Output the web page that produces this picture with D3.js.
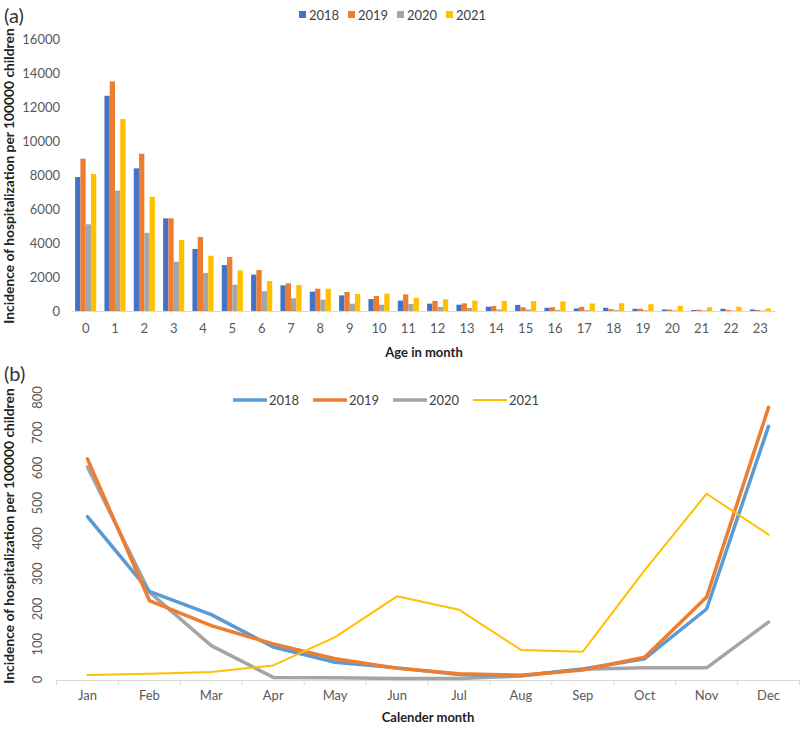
<!DOCTYPE html>
<html><head><meta charset="utf-8">
<script src="https://cdn.jsdelivr.net/npm/d3@7"></script>
<style>
body{margin:0;background:#fff;}
text{font-family:Lato,"Open Sans",sans-serif;}
</style></head>
<body>
<svg id="c" width="800" height="729"></svg>
<script>
// ---------- Data ----------
const years = ["2018","2019","2020","2021"];
const ageMonths = ["0","1","2","3","4","5","6","7","8","9","10","11","12","13","14","15","16","17","18","19","20","21","22","23"];
const age2018 = [7880,12660,8390,5450,3650,2700,2140,1510,1135,920,700,610,430,370,250,360,190,150,190,130,90,60,130,90];
const age2019 = [8960,13510,9250,5450,4350,3180,2410,1630,1310,1120,880,980,590,450,290,220,220,250,110,130,90,70,60,60];
const age2020 = [5100,7080,4600,2900,2240,1550,1160,750,665,430,370,410,235,180,90,90,60,50,50,40,30,30,20,20];
const age2021 = [8060,11290,6720,4180,3250,2390,1760,1530,1310,1000,1020,780,690,610,590,580,560,440,460,400,300,220,250,150];
const ageTicks = [0,2000,4000,6000,8000,10000,12000,14000,16000];

const months = ["Jan","Feb","Mar","Apr","May","Jun","Jul","Aug","Sep","Oct","Nov","Dec"];
const month2018 = [462,250,184,92,49,33,14,11,30,59,200,718];
const month2019 = [626,224,153,101,59,32,16,12,27,63,234,772];
const month2020 = [603,248,96,6,5,3,3,10,29,33,33,163];
const month2021 = [13,16,21,40,120,236,198,84,79,310,527,411];
const monthTicks = [0,100,200,300,400,500,600,700,800];

const barColors = ["#4472C4","#ED7D31","#A5A5A5","#FFC000"];
const lineColors = ["#5B9BD5","#ED7D31","#A5A5A5","#FFC000"];

const svg = d3.select("#c");
const tickColor = "#595959";

// ---------- Panel (a) ----------
const ageSeries = [age2018, age2019, age2020, age2021];
const xa = d3.scaleBand().domain(ageMonths).range([71,775]).paddingInner(0.28).paddingOuter(0.14);
const xs = d3.scaleBand().domain(years).range([0, xa.bandwidth()]);
const ya = d3.scaleLinear().domain([0,16000]).range([311,39]);

svg.append("text").attr("x",4).attr("y",23).attr("font-size",20).attr("fill","#333").text("(a)");

const ga = svg.append("g");
years.forEach((yr,i)=>{
  ga.append("g").selectAll("rect").data(ageSeries[i]).join("rect")
    .attr("x",(d,j)=>xa(ageMonths[j])+xs(yr))
    .attr("width",xs.bandwidth())
    .attr("y",d=>ya(d))
    .attr("height",d=>ya(0)-ya(d))
    .attr("fill",barColors[i]);
});
const axA = svg.append("g").attr("transform","translate(0,311)")
  .call(d3.axisBottom(xa).tickSize(0).tickPadding(13));
axA.select(".domain").attr("stroke","#d9d9d9");
axA.selectAll("text").attr("font-size",13).attr("fill",tickColor).attr("font-family","Lato");
const ayA = svg.append("g").attr("transform","translate(60,0)")
  .call(d3.axisLeft(ya).tickValues(ageTicks).tickSize(0).tickPadding(0).tickFormat(d3.format("d")));
ayA.select(".domain").remove();
ayA.selectAll("text").attr("font-size",13).attr("fill",tickColor).attr("font-family","Lato");

svg.append("text").attr("transform","translate(14,176) rotate(-90)").attr("text-anchor","middle")
  .attr("font-size",13.8).attr("font-weight","bold").attr("fill","#222")
  .text("Incidence of hospitalization per 100000 children");
svg.append("text").attr("x",424).attr("y",357).attr("text-anchor","middle")
  .attr("font-size",13).attr("font-weight","bold").attr("fill","#222").text("Age in month");

const lgA = svg.append("g");
years.forEach((yr,i)=>{
  const x0 = 299 + i*49;
  lgA.append("rect").attr("x",x0).attr("y",11).attr("width",7).attr("height",7).attr("fill",barColors[i]);
  lgA.append("text").attr("x",x0+10).attr("y",20).attr("font-size",13).attr("fill","#404040").text(yr);
});

// ---------- Panel (b) ----------
const monthSeries = [month2018, month2019, month2020, month2021];
const xb = d3.scaleBand().domain(months).range([56.5,799.5]);
const yb = d3.scaleLinear().domain([0,800]).range([679.5,397.5]);

svg.append("text").attr("x",4).attr("y",381).attr("font-size",20).attr("fill","#333").text("(b)");

const axB = svg.append("g").attr("transform","translate(0,680)")
  .call(d3.axisBottom(xb).tickSize(0).tickPadding(11));
axB.select(".domain").attr("stroke","#d9d9d9");
axB.selectAll("text").attr("font-size",13).attr("fill",tickColor).attr("font-family","Lato");
svg.append("g").selectAll("line").data(d3.range(13)).join("line")
  .attr("x1",i=>56.5+i*xb.step()).attr("x2",i=>56.5+i*xb.step())
  .attr("y1",680).attr("y2",685).attr("stroke","#d9d9d9");

svg.append("g").selectAll("text").data(monthTicks).join("text")
  .attr("transform",d=>`translate(42,${yb(d)}) rotate(-90)`)
  .attr("text-anchor","middle").attr("font-size",13).attr("fill",tickColor)
  .text(d=>d);

svg.append("text").attr("transform","translate(14,536) rotate(-90)").attr("text-anchor","middle")
  .attr("font-size",13.8).attr("font-weight","bold").attr("fill","#222")
  .text("Incidence of hospitalization per 100000 children");
svg.append("text").attr("x",428).attr("y",722).attr("text-anchor","middle")
  .attr("font-size",13).attr("font-weight","bold").attr("fill","#222").text("Calender month");

const line = d3.line().x((d,j)=>xb(months[j])+xb.bandwidth()/2).y(d=>yb(d));
const widths = [3.5,3.5,3.5,2];
[2,0,1,3].forEach(i=>{
  svg.append("path").datum(monthSeries[i]).attr("d",line)
    .attr("fill","none").attr("stroke",lineColors[i]).attr("stroke-width",widths[i])
    .attr("stroke-linejoin","round").attr("stroke-linecap","round");
});

const lgB = svg.append("g");
years.forEach((yr,i)=>{
  const x0 = 233 + i*80;
  lgB.append("line").attr("x1",x0).attr("x2",x0+34).attr("y1",400).attr("y2",400)
    .attr("stroke",lineColors[i]).attr("stroke-width",widths[i]);
  lgB.append("text").attr("x",x0+36).attr("y",405).attr("font-size",13).attr("fill","#404040").text(yr);
});
</script>
</body></html>
